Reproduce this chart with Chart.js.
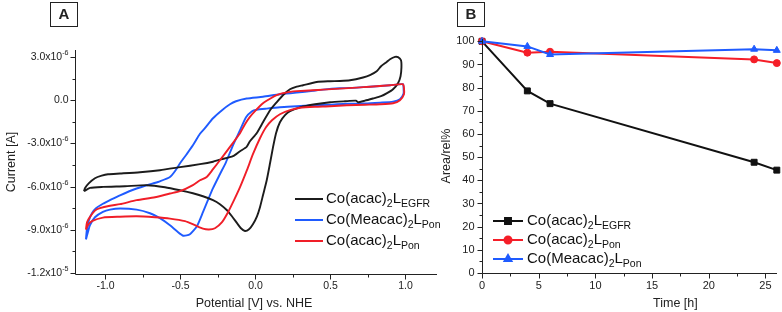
<!DOCTYPE html>
<html>
<head>
<meta charset="utf-8">
<script src="https://cdn.jsdelivr.net/npm/chart.js@4.4.0/dist/chart.umd.min.js"></script>
<style>
  html, body { margin: 0; padding: 0; background: #fff; }
  #wrap { position: relative; width: 782px; height: 312px; overflow: hidden; }
  #cvA { position: absolute; left: 0; top: 0; }
  #cvB { position: absolute; left: 436px; top: 0; }
</style>
</head>
<body>
<div id="wrap">
  <canvas id="cvA" width="440" height="312"></canvas>
  <canvas id="cvB" width="346" height="312"></canvas>
</div>
<script>
// ---- Panel A: cyclic voltammograms, [potential V vs NHE, current in 1e-6 A]
const cvEgfr = [[-1.143,-6.32],[-1.103,-6.09],[-1.017,-6.02],[-0.870,-5.97],[-0.723,-5.90],[-0.603,-6.04],[-0.503,-6.25],[-0.417,-6.46],[-0.350,-6.67],[-0.283,-6.94],[-0.237,-7.22],[-0.190,-7.64],[-0.157,-8.06],[-0.123,-8.54],[-0.097,-8.89],[-0.070,-9.08],[-0.043,-8.96],[-0.017,-8.61],[0.010,-8.06],[0.030,-7.43],[0.050,-6.60],[0.075,-5.56],[0.097,-4.38],[0.117,-3.26],[0.137,-2.29],[0.163,-1.53],[0.197,-1.04],[0.230,-0.76],[0.297,-0.49],[0.397,-0.28],[0.497,-0.14],[0.597,-0.07],[0.670,-0.03],[0.683,-0.14],[0.730,-0.03],[0.783,0.12],[0.837,0.28],[0.877,0.49],[0.917,0.76],[0.950,1.18],[0.967,1.67],[0.973,2.29],[0.970,2.78],[0.950,2.99],[0.930,3.01],[0.897,2.85],[0.875,2.66],[0.837,2.36],[0.808,2.01],[0.763,1.74],[0.717,1.58],[0.630,1.39],[0.563,1.34],[0.497,1.32],[0.408,1.27],[0.317,1.04],[0.275,0.94],[0.230,0.76],[0.183,0.35],[0.141,-0.14],[0.097,-0.69],[0.050,-1.53],[0.008,-2.29],[-0.037,-2.85],[-0.059,-3.24],[-0.103,-3.54],[-0.150,-3.89],[-0.237,-4.13],[-0.283,-4.27],[-0.370,-4.44],[-0.503,-4.65],[-0.637,-4.86],[-0.770,-5.00],[-0.903,-5.09],[-0.983,-5.14],[-1.025,-5.24],[-1.070,-5.42],[-1.110,-5.76],[-1.137,-6.11],[-1.143,-6.32]];
const cvMePon = [[-1.130,-9.67],[-1.117,-9.17],[-1.103,-8.68],[-1.070,-8.13],[-1.017,-7.76],[-0.970,-7.60],[-0.903,-7.52],[-0.792,-7.60],[-0.703,-7.85],[-0.637,-8.19],[-0.570,-8.68],[-0.523,-9.10],[-0.481,-9.41],[-0.437,-9.31],[-0.390,-8.75],[-0.350,-7.78],[-0.317,-6.94],[-0.283,-6.11],[-0.237,-5.14],[-0.197,-4.31],[-0.150,-3.13],[-0.103,-2.08],[-0.063,-1.18],[-0.023,-0.76],[0.008,-0.66],[0.075,-0.58],[0.163,-0.49],[0.275,-0.42],[0.383,-0.35],[0.497,-0.31],[0.608,-0.24],[0.730,-0.23],[0.830,-0.17],[0.917,-0.10],[0.963,0.07],[0.987,0.47],[0.987,0.83],[0.983,1.11],[0.897,1.04],[0.763,0.94],[0.675,0.88],[0.563,0.83],[0.450,0.74],[0.383,0.66],[0.275,0.53],[0.163,0.42],[0.050,0.24],[-0.059,0.12],[-0.130,-0.07],[-0.170,-0.28],[-0.223,-0.69],[-0.283,-1.25],[-0.337,-1.94],[-0.370,-2.33],[-0.417,-3.13],[-0.459,-3.75],[-0.503,-4.38],[-0.537,-4.93],[-0.570,-5.33],[-0.637,-5.63],[-0.683,-5.78],[-0.792,-6.13],[-0.903,-6.60],[-0.970,-6.94],[-1.017,-7.19],[-1.063,-7.50],[-1.090,-7.85],[-1.110,-8.33],[-1.123,-8.89],[-1.130,-9.67]];
const cvPon = [[-1.130,-8.98],[-1.117,-8.68],[-1.090,-8.40],[-1.017,-8.15],[-0.903,-8.09],[-0.792,-8.06],[-0.670,-8.13],[-0.570,-8.22],[-0.470,-8.40],[-0.403,-8.68],[-0.350,-8.92],[-0.310,-8.98],[-0.270,-8.89],[-0.223,-8.47],[-0.183,-7.78],[-0.143,-6.94],[-0.103,-6.04],[-0.057,-4.86],[-0.017,-3.75],[0.030,-2.64],[0.070,-1.88],[0.110,-1.39],[0.163,-0.97],[0.230,-0.69],[0.297,-0.52],[0.397,-0.45],[0.497,-0.42],[0.608,-0.35],[0.730,-0.31],[0.830,-0.28],[0.917,-0.21],[0.963,0.00],[0.990,0.42],[0.990,0.83],[0.983,1.11],[0.897,1.04],[0.763,0.94],[0.675,0.88],[0.563,0.81],[0.450,0.74],[0.383,0.69],[0.275,0.63],[0.230,0.58],[0.183,0.49],[0.141,0.35],[0.097,0.10],[0.050,-0.21],[0.003,-0.69],[-0.037,-1.16],[-0.070,-1.67],[-0.103,-2.29],[-0.137,-2.78],[-0.170,-3.24],[-0.237,-4.17],[-0.283,-4.79],[-0.325,-5.33],[-0.370,-5.56],[-0.417,-5.90],[-0.503,-6.32],[-0.570,-6.48],[-0.670,-6.74],[-0.792,-6.94],[-0.903,-7.22],[-0.970,-7.33],[-1.037,-7.50],[-1.070,-7.67],[-1.103,-8.10],[-1.123,-8.47],[-1.130,-8.98]];

const potTicks = [-1.0, -0.5, 0.0, 0.5, 1.0];
const potLabels = ['-1.0', '-0.5', '0.0', '0.5', '1.0'];
const potMinor = [-0.75, -0.25, 0.25, 0.75];
const curTicks = [3, 0, -3, -6, -9, -12];
const curLabels = ['3.0x10^-6', '0.0', '-3.0x10^-6', '-6.0x10^-6', '-9.0x10^-6', '-1.2x10^-5'];
const curMinor = [1.5, -1.5, -4.5, -7.5, -10.5];
const namesA = ['Co(acac)<2>L<EGFR>', 'Co(Meacac)<2>L<Pon>', 'Co(acac)<2>L<Pon>'];

// ---- Panel B: stability over time
const timeH = [0, 4, 6, 24, 26];
const areaEgfr = [100, 78.6, 73.1, 47.8, 44.4];
const areaPon = [100, 95.1, 95.5, 92.2, 90.6];
const areaMePon = [100, 97.8, 94.3, 96.6, 96.1];
const timeTicks = [0, 5, 10, 15, 20, 25];
const timeMinor = [2.5, 7.5, 12.5, 17.5, 22.5];
const areaTicks = [0, 10, 20, 30, 40, 50, 60, 70, 80, 90, 100];
const areaMinor = [5, 15, 25, 35, 45, 55, 65, 75, 85, 95];
const namesB = ['Co(acac)<2>L<EGFR>', 'Co(acac)<2>L<Pon>', 'Co(Meacac)<2>L<Pon>'];

const FONT = '"Liberation Sans", Arial, Helvetica, sans-serif';
const INK = '#222';
const BLACK = '#1c1c1c', BLUE = '#1f5bff', RED = '#f01e28';

function drawRich(ctx, str, x, y, size) {
  const re = /<([^>]*)>|([^<]+)/g;
  let m;
  ctx.textAlign = 'left';
  ctx.textBaseline = 'middle';
  while ((m = re.exec(str))) {
    const sub = m[1] !== undefined;
    const t = sub ? m[1] : m[2];
    ctx.font = (sub ? size * 0.7 : size) + 'px ' + FONT;
    ctx.fillText(t, x, sub ? y + size * 0.32 : y);
    x += ctx.measureText(t).width;
  }
}

function drawSci(ctx, label, xRight, y, size) {
  const [mant, exp] = label.split('^');
  ctx.textBaseline = 'middle';
  ctx.textAlign = 'left';
  ctx.font = (size * 0.68) + 'px ' + FONT;
  const wE = exp ? ctx.measureText(exp).width : 0;
  ctx.font = size + 'px ' + FONT;
  const wM = ctx.measureText(mant).width;
  ctx.fillText(mant, xRight - wE - wM, y);
  if (exp) {
    ctx.font = (size * 0.68) + 'px ' + FONT;
    ctx.fillText(exp, xRight - wE, y - size * 0.38);
  }
}

function drawAxes(chart, o) {
  const { ctx, chartArea: a, scales: { x, y } } = chart;
  const L = Math.round(a.left) + 0.5, B = Math.round(a.bottom) + 0.5;
  ctx.save();
  ctx.strokeStyle = INK;
  ctx.lineWidth = 1;
  ctx.beginPath();
  ctx.moveTo(L, Math.round(a.top));
  ctx.lineTo(L, B);
  ctx.lineTo(Math.round(a.right), B);
  const tx = (vals, len) => vals.forEach(v => {
    const p = Math.round(x.getPixelForValue(v)) + 0.5;
    ctx.moveTo(p, B); ctx.lineTo(p, B + len);
  });
  const ty = (vals, len) => vals.forEach(v => {
    const p = Math.round(y.getPixelForValue(v)) + 0.5;
    ctx.moveTo(L, p); ctx.lineTo(L - len, p);
  });
  tx(o.xMajor, 5); tx(o.xMinor, 3);
  ty(o.yMajor, 5); ty(o.yMinor, 3);
  ctx.stroke();

  ctx.fillStyle = INK;
  ctx.font = o.tick + 'px ' + FONT;
  ctx.textAlign = 'center';
  ctx.textBaseline = 'middle';
  o.xMajor.forEach((v, i) => ctx.fillText(o.xLabels[i], x.getPixelForValue(v), B + 12));
  o.yMajor.forEach((v, i) => drawSci(ctx, o.yLabels[i], L - o.yGap, y.getPixelForValue(v), o.tick));

  ctx.font = o.title + 'px ' + FONT;
  ctx.textAlign = 'center';
  ctx.fillText(o.xTitle, (a.left + a.right) / 2 + o.xTitleDx, 304);
  ctx.save();
  ctx.translate(o.yTitleX, (a.top + a.bottom) / 2);
  ctx.rotate(-Math.PI / 2);
  ctx.fillText(o.yTitle, 0, 0);
  ctx.restore();

  // boxed panel letter
  ctx.strokeRect(o.box[0] + 0.5, o.box[1] + 0.5, 27, 24);
  ctx.font = 'bold 15px ' + FONT;
  ctx.fillText(o.letter, o.box[0] + 14, o.box[1] + 13);
  ctx.restore();
}

const axesA = {
  id: 'axesA',
  afterDraw(chart) {
    drawAxes(chart, {
      xMajor: potTicks, xMinor: potMinor, xLabels: potLabels,
      yMajor: curTicks, yMinor: curMinor, yLabels: curLabels, yGap: 7,
      tick: 10.5, title: 12.5, xTitle: 'Potential [V] vs. NHE', xTitleDx: -2,
      yTitle: 'Current [A]', yTitleX: 12, box: [50, 2], letter: 'A'
    });
    const ctx = chart.ctx;
    const rows = [199, 220, 241];
    const cols = [BLACK, BLUE, RED];
    ctx.save();
    ctx.lineWidth = 2;
    rows.forEach((ry, i) => {
      ctx.strokeStyle = cols[i];
      ctx.beginPath(); ctx.moveTo(295, ry); ctx.lineTo(323, ry); ctx.stroke();
      ctx.fillStyle = '#111';
      drawRich(ctx, namesA[i], 326, ry, 15);
    });
    ctx.restore();
  }
};

const axesB = {
  id: 'axesB',
  afterDraw(chart) {
    drawAxes(chart, {
      xMajor: timeTicks, xMinor: timeMinor, xLabels: timeTicks.map(String),
      yMajor: areaTicks, yMinor: areaMinor, yLabels: areaTicks.map(String), yGap: 8,
      tick: 11, title: 12.5, xTitle: 'Time [h]', xTitleDx: 46,
      yTitle: 'Area/rel%', yTitleX: 11, box: [21, 2], letter: 'B'
    });
    const ctx = chart.ctx;
    const rows = [221, 240, 259];
    ctx.save();
    rows.forEach((ry, i) => {
      const ds = chart.data.datasets[[2, 1, 0][i]];
      ctx.strokeStyle = ds.borderColor;
      ctx.fillStyle = ds.borderColor;
      ctx.lineWidth = 2;
      ctx.beginPath(); ctx.moveTo(57, ry); ctx.lineTo(87, ry); ctx.stroke();
      Chart.helpers.drawPoint(ctx, { pointStyle: ds.pointStyle, radius: ds.pointRadius, borderWidth: 1, rotation: 0 }, 72, ry);
      ctx.fillStyle = '#111';
      drawRich(ctx, namesB[i], 91, ry, 15);
    });
    ctx.restore();
  }
};

const lineDs = (label, pts, color, order) => ({
  label, order,
  data: pts.map(p => ({ x: p[0], y: p[1] })),
  showLine: true, borderColor: color, borderWidth: 1.9,
  pointRadius: 0, tension: 0.2, fill: false
});

new Chart(document.getElementById('cvA'), {
  type: 'scatter',
  data: {
    datasets: [
      lineDs(namesA[2], cvPon, RED, 0),
      lineDs(namesA[0], cvEgfr, BLACK, 1),
      lineDs(namesA[1], cvMePon, BLUE, 2)
    ]
  },
  options: {
    responsive: false, animation: false, events: [],
    layout: { padding: { left: 75, right: 3, top: 50, bottom: 38 } },
    plugins: { legend: { display: false }, tooltip: { enabled: false } },
    scales: {
      x: { type: 'linear', display: false, min: -1.203, max: 1.21 },
      y: { type: 'linear', display: false, min: -12.07, max: 3.49 }
    }
  },
  plugins: [axesA]
});

const markDs = (label, ys, color, style, radius, order) => ({
  label, order,
  data: timeH.map((t, i) => ({ x: t, y: ys[i] })),
  showLine: true, borderColor: color, backgroundColor: color, borderWidth: 2,
  pointStyle: style, pointRadius: radius, pointBorderWidth: 1, clip: false
});

new Chart(document.getElementById('cvB'), {
  type: 'scatter',
  data: {
    datasets: [
      markDs(namesB[2], areaMePon, '#1f5bff', 'triangle', 4, 0),
      markDs(namesB[1], areaPon, '#f51e28', 'circle', 3.5, 1),
      markDs(namesB[0], areaEgfr, '#111111', 'rect', 4.2, 2)
    ]
  },
  options: {
    responsive: false, animation: false, events: [],
    layout: { padding: { left: 46, right: 5, top: 39, bottom: 39 } },
    plugins: { legend: { display: false }, tooltip: { enabled: false } },
    scales: {
      x: { type: 'linear', display: false, min: 0, max: 26 },
      y: { type: 'linear', display: false, min: 0, max: 101 }
    }
  },
  plugins: [axesB]
});
</script>
</body>
</html>
